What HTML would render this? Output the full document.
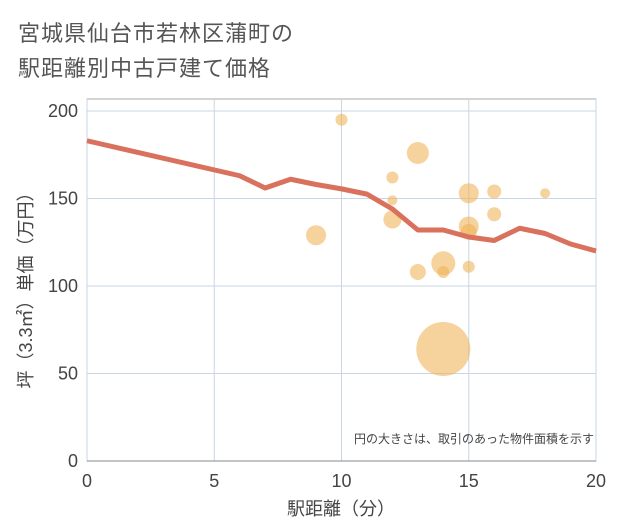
<!DOCTYPE html>
<html><head><meta charset="utf-8">
<style>
body{margin:0;background:#fff;font-family:"Liberation Sans","Noto Sans CJK JP",sans-serif;}
#wrap{position:relative;width:621px;height:530px;overflow:hidden;}
.title{position:absolute;left:18px;font-size:22px;color:#555;letter-spacing:1px;}
</style></head><body>
<div id="wrap">
<div class="title" style="top:16px">宮城県仙台市若林区蒲町の</div>
<div class="title" style="top:51px">駅距離別中古戸建て価格</div>
<svg id="svg" width="621" height="530" style="position:absolute;left:0;top:0"></svg>
</div>
<script>
const lineX=[0,6,7,8,9,10,11,12,13,14,15,16,17,18,19,20];
const lineY=[183,163,156,161,158,155.5,152.5,144,132,132,128,126,133,130,124,120];
const bubX=[10,13,12,12,12,9,15,16,18,16,15,15,14,14,13,15,14];
const bubY=[195,176,162,149,138,129,153,154,153,141,134,131,113,108,108,111,64];
const bubR=[6,11,6,5,9,10,10,7,5,7,10,8,12,6,8,6,27];
const xTicks=[0,5,10,15,20];
const yTicks=[0,50,100,150,200];
const NS="http://www.w3.org/2000/svg";
const svg=document.getElementById('svg');
const L=87,R=596,T=99,B=461;
const sx=v=>L+(R-L)*v/20, sy=v=>B-(B-111)*v/200;
function mk(t,a){const e=document.createElementNS(NS,t);for(const k in a)e.setAttribute(k,a[k]);svg.appendChild(e);return e;}
const frame=mk('rect',{x:L,y:T,width:R-L,height:B-T,fill:'none',stroke:'#aaa','stroke-width':1});


xTicks.forEach(v=>{
 const g=mk('line',{x1:sx(v),x2:sx(v),y1:T,y2:B,stroke:'#c8d6e6','stroke-width':1});
 
 
 const t=mk('text',{x:sx(v),y:487,'text-anchor':'middle','font-size':18,fill:'#444'});
 t.textContent=v;
 
 
});
yTicks.forEach(v=>{
 const g=mk('line',{x1:L,x2:R,y1:sy(v),y2:sy(v),stroke:'#c8d6e6','stroke-width':1});
 
 
 const t=mk('text',{x:78,y:sy(v)+6,'text-anchor':'end','font-size':18,fill:'#444'});
 t.textContent=v;
 
 
});
const ax=mk('line',{x1:L,x2:R,y1:B,y2:B,stroke:'#888','stroke-width':1});


bubX.forEach((x,i)=>{
 const c=mk('circle',{cx:sx(x),cy:sy(bubY[i]),r:bubR[i],fill:'rgba(240,180,90,0.6)'});
 
 
});
const p=mk('polyline',{points:lineX.map((x,i)=>sx(x)+','+sy(lineY[i])).join(' '),fill:'none',stroke:'#d9715c','stroke-width':5,'stroke-linejoin':'round'});


const xt=mk('text',{x:341,y:515,'text-anchor':'middle','font-size':18,fill:'#444'});
xt.textContent='駅距離（分）';


const yt=mk('text',{x:0,y:0,'text-anchor':'middle','font-size':18,fill:'#444',transform:'translate(32,286) rotate(-90)'});
yt.textContent='坪（3.3㎡）単価（万円）';


const note=mk('text',{x:594,y:443,'text-anchor':'end','font-size':12,fill:'#444'});
note.textContent='円の大きさは、取引のあった物件面積を示す';


</script>
</body></html>
